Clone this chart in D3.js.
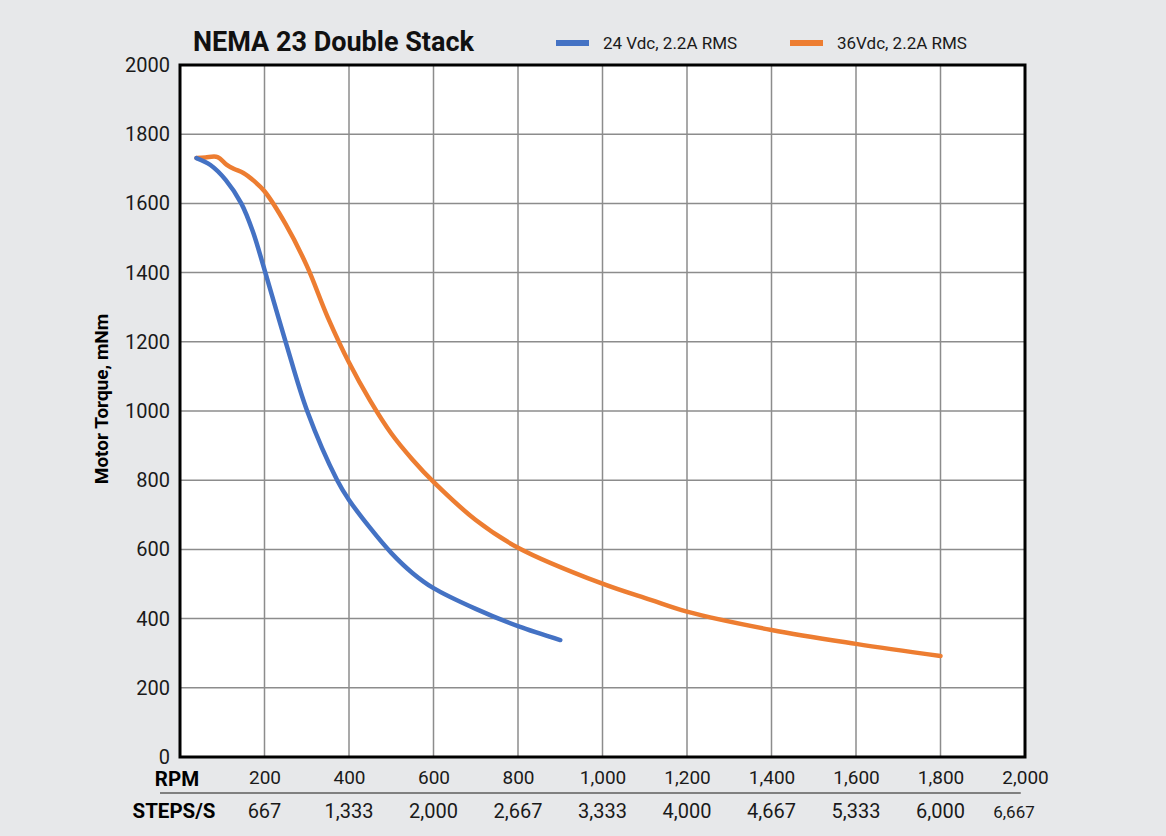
<!DOCTYPE html>
<html>
<head>
<meta charset="utf-8">
<script src="https://cdn.jsdelivr.net/npm/d3@7"></script>
<style>
  body { margin: 0; background: #e7e8ea; }
  svg { display: block; font-family: Roboto, "Noto Sans", sans-serif; }
</style>
</head>
<body>
<div id="chart"></div>
<script>
// torque curves, rpm vs mNm
var rpm24 = [39, 72, 108, 145, 172, 202, 250, 301, 372, 400, 450, 500, 550, 600, 700, 800, 900];
var torque24 = [1731, 1711, 1668, 1600, 1520, 1400, 1200, 1000, 800, 743, 662, 590, 532, 488, 428, 378, 338];

var rpm36 = [39, 60, 89, 110, 127, 150, 175, 200, 250, 300, 350, 400, 450, 500, 550, 600, 700, 800, 995, 1114, 1200, 1400, 1600, 1800];
var torque36 = [1731, 1733, 1734, 1712, 1700, 1688, 1665, 1635, 1540, 1420, 1270, 1140, 1030, 935, 860, 795, 685, 605, 503, 454, 420, 367, 327, 292];

var rpmTicks = [200, 400, 600, 800, 1000, 1200, 1400, 1600, 1800, 2000];
var stepTicks = ["667", "1,333", "2,000", "2,667", "3,333", "4,000", "4,667", "5,333", "6,000", "6,667"];
var torqueTicks = [0, 200, 400, 600, 800, 1000, 1200, 1400, 1600, 1800, 2000];

var seriesNames = ["24 Vdc, 2.2A RMS", "36Vdc, 2.2A RMS"];
var colors = ["#4472c4", "#ed7d31"];

var W = 1166, H = 836;
var m = { left: 180, top: 65, right: 141, bottom: 79 };
var w = W - m.left - m.right, h = H - m.top - m.bottom;

var svg = d3.select("#chart").append("svg")
    .attr("width", W)
    .attr("height", H);

var x = d3.scaleLinear().domain([0, 2000]).range([0, w]);
var y = d3.scaleLinear().domain([0, 2000]).range([h, 0]);

var g = svg.append("g").attr("transform", "translate(" + m.left + "," + m.top + ")");

g.append("rect")
    .attr("width", w).attr("height", h)
    .attr("fill", "#fff");

// grid
g.selectAll(".vg").data(rpmTicks.slice(0, -1)).enter().append("line")
    .attr("x1", d => x(d)).attr("x2", d => x(d))
    .attr("y1", 0).attr("y2", h)
    .attr("stroke", "#8c8c8c").attr("stroke-width", 1.5);
g.selectAll(".hg").data(torqueTicks.slice(1, -1)).enter().append("line")
    .attr("y1", d => y(d)).attr("y2", d => y(d))
    .attr("x1", 0).attr("x2", w)
    .attr("stroke", "#8c8c8c").attr("stroke-width", 1.5);

// y axis labels
var yAxis = d3.axisLeft(y).tickValues(torqueTicks).tickSize(0).tickPadding(10).tickFormat(d3.format("d"));
var ya = g.append("g").call(yAxis);
ya.select(".domain").remove();
ya.selectAll("text").attr("font-size", 20).attr("fill", "#1a1a1a").attr("font-family", "Roboto");

// rpm row
var xAxis = d3.axisBottom(x).tickValues(rpmTicks).tickSize(0).tickPadding(14).tickFormat(d3.format(","));
var xa = g.append("g").attr("transform", "translate(0," + h + ")").call(xAxis);
xa.select(".domain").remove();
xa.selectAll("text").attr("font-size", 19).attr("fill", "#1a1a1a").attr("font-family", "Roboto");

// steps row
g.selectAll(".st").data(stepTicks).enter().append("text")
    .attr("x", (d, i) => x(rpmTicks[i]) + (i == stepTicks.length - 1 ? -11 : 0))
    .attr("y", h + 61)
    .attr("text-anchor", "middle")
    .attr("font-size", (d, i) => i == stepTicks.length - 1 ? 17 : 20)
    .attr("fill", "#1a1a1a")
    .text(d => d);

svg.append("line")
    .attr("x1", 160).attr("x2", m.left + x(1990))
    .attr("y1", m.top + h + 36).attr("y2", m.top + h + 36)
    .attr("stroke", "#808080").attr("stroke-width", 2);

svg.append("text").attr("x", 177).attr("y", m.top + h + 29)
    .attr("text-anchor", "middle").attr("font-size", 20.5).attr("font-weight", "bold")
    .text("RPM");
svg.append("text").attr("x", 174).attr("y", m.top + h + 61)
    .attr("text-anchor", "middle").attr("font-size", 20.5).attr("font-weight", "bold")
    .text("STEPS/S");

// curves
var line = d3.line().x(d => x(d[0])).y(d => y(d[1])).curve(d3.curveCatmullRom.alpha(0.5));
var series = [d3.zip(rpm24, torque24), d3.zip(rpm36, torque36)];

g.selectAll(".curve").data(series.slice().reverse()).enter().append("path")
    .attr("d", line)
    .attr("fill", "none")
    .attr("stroke", (d, i) => colors[1 - i])
    .attr("stroke-width", 4.5)
    .attr("stroke-linecap", "round")
    .attr("stroke-linejoin", "round");

// frame
g.append("rect")
    .attr("width", w).attr("height", h)
    .attr("fill", "none").attr("stroke", "#000").attr("stroke-width", 3);

// title, axis title
svg.append("text").attr("x", 193).attr("y", 51)
    .attr("font-size", 27).attr("font-weight", "bold").attr("fill", "#111")
    .text("NEMA 23 Double Stack");

svg.append("text")
    .attr("transform", "translate(108," + (m.top + h / 2 - 12) + ") rotate(-90)")
    .attr("text-anchor", "middle")
    .attr("font-size", 19).attr("font-weight", "bold")
    .text("Motor Torque, mNm");

// legend
var legX = [556, 790];
seriesNames.forEach(function (s, i) {
    svg.append("rect").attr("x", legX[i]).attr("y", 40).attr("width", 33).attr("height", 6)
        .attr("fill", colors[i]);
    svg.append("text").attr("x", legX[i] + 47).attr("y", 49)
        .attr("font-size", 17).attr("fill", "#1a1a1a")
        .text(s);
});
</script>
</body>
</html>
